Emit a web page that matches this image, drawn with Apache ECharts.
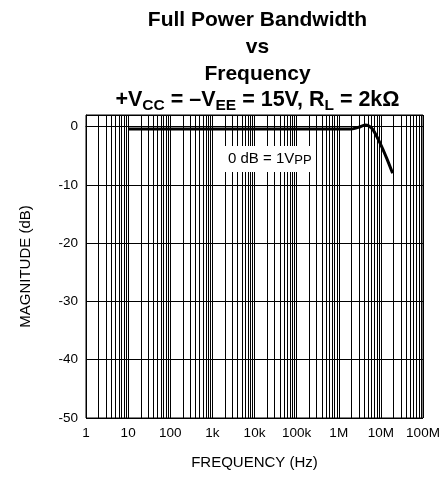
<!DOCTYPE html>
<html>
<head>
<meta charset="utf-8">
<script src="https://cdn.jsdelivr.net/npm/echarts@6/dist/echarts.min.js"></script>
<style>
html,body{margin:0;padding:0;background:#fff;}
#chart{width:447px;height:483px;}
</style>
</head>
<body>
<div id="chart"></div>
<script>
// ---- data ----
const freqHz = [10, 100, 1e3, 1e4, 1e5, 1e6, 2e6, 3e6, 4.2e6, 5.2e6, 6.6e6, 9.5e6, 1.37e7, 1.9e7];
const magnitudeDb = [-0.4, -0.4, -0.4, -0.4, -0.4, -0.4, -0.4, -0.1, 0.3, 0.1, -0.6, -2.8, -5.4, -8];
const xTickLabels = ['1', '10', '100', '1k', '10k', '100k', '1M', '10M', '100M'];
const minorMultipliers = [2, 3, 4, 5, 6, 7, 8, 9];
const decadeExponents = [0, 1, 2, 3, 4, 5, 6, 7];

const FONT = 'Liberation Sans, Arial, Helvetica, sans-serif';

const curve = freqHz.map((f, i) => [f, magnitudeDb[i]]);
const minorLines = [];
decadeExponents.forEach(e => minorMultipliers.forEach(m => minorLines.push({ xAxis: m * Math.pow(10, e) })));

const chart = echarts.init(document.getElementById('chart'), null, { renderer: 'canvas' });
chart.setOption({
  animation: false,
  backgroundColor: '#fff',
  title: {
    text: 'Full Power Bandwidth\nvs\nFrequency',
    subtext: '+V{s|CC} = \u2013V{s|EE} = 15V, R{s|L} = 2k\u03A9',
    left: 257.5,
    textAlign: 'center',
    top: 7,
    padding: 0,
    itemGap: 0,
    textStyle: { fontFamily: FONT, fontSize: 21, fontWeight: 'bold', color: '#000', lineHeight: 26.7 },
    subtextStyle: {
      fontFamily: FONT, fontSize: 21.5, fontWeight: 'bold', color: '#000', lineHeight: 26.7,
      rich: { s: { fontFamily: FONT, fontSize: 15.5, fontWeight: 'bold', color: '#000', verticalAlign: 'bottom', lineHeight: 16 } }
    }
  },
  grid: { left: 86, right: 24, top: 115, bottom: 65, show: true, borderColor: '#000', borderWidth: 1, backgroundColor: 'transparent' },
  xAxis: {
    type: 'log', logBase: 10, min: 1, max: 1e8,
    name: 'FREQUENCY (Hz)', nameLocation: 'middle', nameGap: 37,
    nameTextStyle: { fontFamily: FONT, fontSize: 15, color: '#000' },
    axisLine: { show: true, lineStyle: { color: '#000', width: 1 } },
    axisTick: { show: false },
    axisLabel: {
      fontFamily: FONT, fontSize: 13.5, color: '#000', margin: 8,
      formatter: v => xTickLabels[Math.round(Math.log10(v))]
    },
    splitLine: { show: true, lineStyle: { color: '#000', width: 1 } }
  },
  yAxis: {
    type: 'value', min: -50, max: 2, interval: 10,
    name: 'MAGNITUDE (dB)', nameLocation: 'middle', nameGap: 53,
    nameTextStyle: { fontFamily: FONT, fontSize: 15, color: '#000' },
    axisLine: { show: true, lineStyle: { color: '#000', width: 1 } },
    axisTick: { show: false },
    axisLabel: {
      fontFamily: FONT, fontSize: 13.5, color: '#000', margin: 8, showMaxLabel: false,
      formatter: v => (v > 0 ? '' : String(v))
    },
    splitLine: { show: true, lineStyle: { color: '#000', width: 1 } }
  },
  series: [
    {
      type: 'line', data: [], z: 1, silent: true,
      markLine: {
        silent: true, symbol: ['none', 'none'], animation: false,
        label: { show: false },
        lineStyle: { color: '#000', width: 1, type: 'solid' },
        emphasis: { disabled: true },
        data: minorLines
      }
    },
    {
      type: 'line', data: curve, z: 5, smooth: 0.25,
      showSymbol: false, symbol: 'none',
      lineStyle: { color: '#000', width: 3 }
    }
  ],
  graphic: [
    {
      type: 'text', x: 222, y: 146, z: 100, zlevel: 0,
      style: {
        text: '0 dB = 1V{s|PP}',
        fontFamily: FONT, fontSize: 15, fill: '#000',
        align: 'left', verticalAlign: 'top',
        backgroundColor: '#fff', padding: [5, 4, 5, 6], lineHeight: 16,
        rich: { s: { fontFamily: FONT, fontSize: 13, fill: '#000', verticalAlign: 'bottom', lineHeight: 13 } }
      }
    }
  ]
});
</script>
</body>
</html>
